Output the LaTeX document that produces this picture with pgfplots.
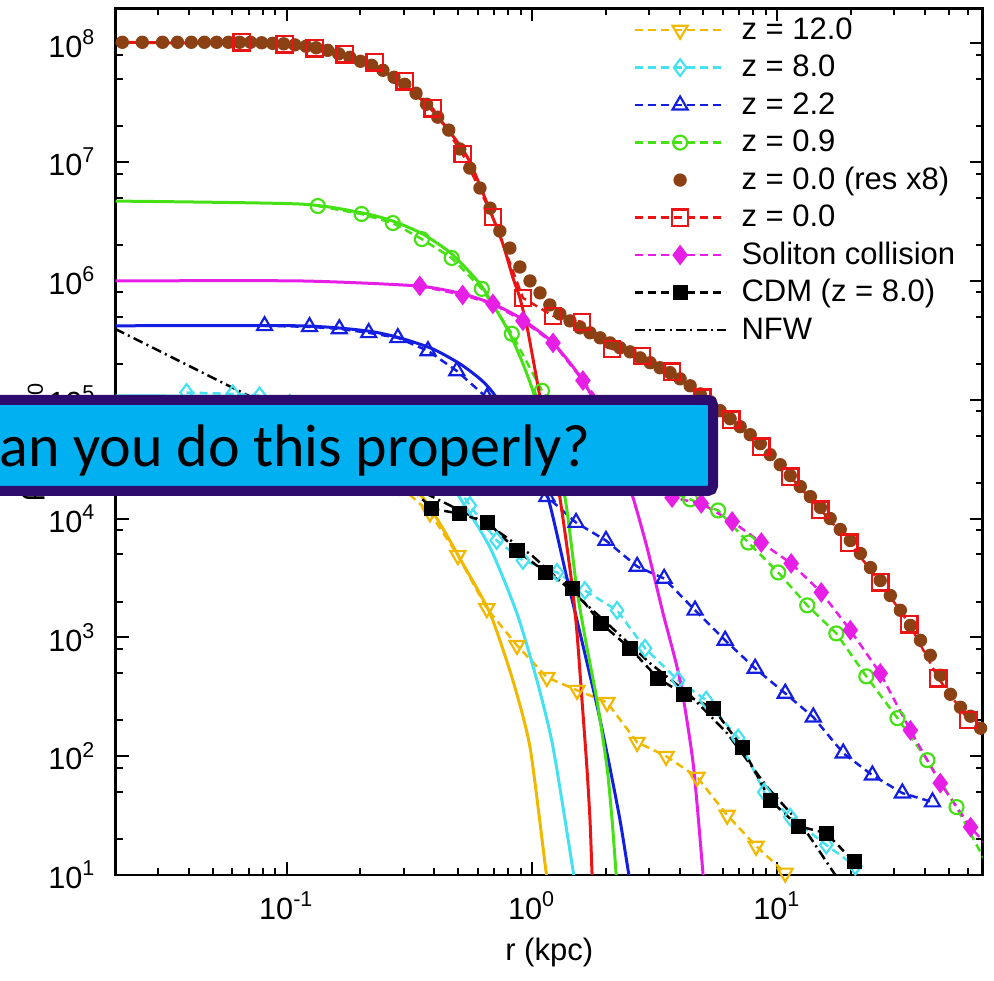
\documentclass[border=0pt]{standalone}
\usepackage{fontspec}
\setmainfont{Liberation Sans}
\newfontfamily\carlito{Carlito}
\usepackage{pgfplots}
\pgfplotsset{compat=1.18}

\definecolor{cYel}{RGB}{240,185,0}
\definecolor{cCya}{RGB}{70,225,240}
\definecolor{cBlu}{RGB}{20,30,225}
\definecolor{cGrn}{RGB}{70,225,20}
\definecolor{cBrn}{RGB}{140,65,20}
\definecolor{cRed}{RGB}{235,20,20}
\definecolor{cMag}{RGB}{230,30,230}
\definecolor{boxfill}{RGB}{0,176,240}
\definecolor{boxdraw}{RGB}{46,12,110}

\pgfplotsset{
  dsh/.style={line width=0.75pt, dash pattern=on 2.4pt off 1.5pt},
  sYel/.style={dsh, cYel, mark=triangle, mark size=2.6pt, mark options={solid, rotate=180, line width=0.65pt}},
  sCya/.style={dsh, cCya, mark=diamond, mark size=2.5pt, mark options={solid, line width=0.65pt}},
  sBlu/.style={dsh, cBlu, mark=triangle, mark size=2.6pt, mark options={solid, line width=0.65pt}},
  sGrn/.style={dsh, cGrn, mark=o, mark size=2.1pt, mark options={solid, line width=0.65pt}},
  sBrn/.style={cBrn, only marks, mark=*, mark size=1.8pt},
  sRed/.style={dsh, cRed, mark=square, mark size=2.45pt, mark options={solid, line width=0.7pt}},
  sMag/.style={dsh, cMag, mark=diamond*, mark size=2.5pt, mark options={solid}},
  sBlk/.style={dsh, black, mark=square*, mark size=1.9pt, mark options={solid}},
  sNFW/.style={black, line width=0.75pt, dash pattern=on 3pt off 1.3pt on 0.6pt off 1.3pt},
  fitS/.style={line width=0.9pt, solid, smooth, tension=0.4, forget plot},
}

\begin{document}
\begin{tikzpicture}
\begin{axis}[
  at={(0,0)}, anchor=south west,
  scale only axis, width=260.1pt, height=260.0pt,
  xmode=log, ymode=log,
  xmin=0.0201, xmax=68.8, ymin=10, ymax=1.97e8,
  xtick={0.1,1,10},
  xticklabels={10\textsuperscript{-1},10\textsuperscript{0},10\textsuperscript{1}},
  ytick={10,100,1000,1e4,1e5,1e6,1e7,1e8},
  yticklabels={10\textsuperscript{1},10\textsuperscript{2},10\textsuperscript{3},10\textsuperscript{4},10\textsuperscript{5},10\textsuperscript{6},10\textsuperscript{7},10\textsuperscript{8}},
  minor xtick={0.03,0.04,0.05,0.06,0.07,0.08,0.09,0.2,0.3,0.4,0.5,0.6,0.7,0.8,0.9,2,3,4,5,6,7,8,9,20,30,40,50,60},
  minor ytick={20,50,80,200,500,800,2000,5000,8000,2e4,5e4,8e4,2e5,5e5,8e5,2e6,5e6,8e6,2e7,5e7,8e7},
  tick align=inside,
  major tick length=3.9pt, minor tick length=2.1pt,
  tick style={black, line width=0.6pt},
  axis line style={line width=0.8pt},
  tick label style={font=\fontsize{9.2}{11}\selectfont},
  xticklabel style={anchor=center, inner sep=0pt, yshift=-9.3pt},
  yticklabel style={anchor=east, inner sep=0pt, xshift=-5.7pt},
  label style={font=\fontsize{9.3}{11}\selectfont},
  xlabel={r (kpc)},
  ylabel={ρ\hspace{0.7em}/\hspace{0.7em}ρ\textsubscript{m0}},
  xlabel style={at={(axis description cs:0.5,-0.0894)}, anchor=center},
  ylabel style={at={(axis description cs:-0.0988,0.5)}, anchor=center},
  legend cell align=left,
  legend style={draw=none, fill=none, at={(0.5963,0.9997)}, anchor=north west,
    inner sep=0pt, row sep=-1.25pt, column sep=2.4pt,
    font=\fontsize{9.3}{11}\selectfont,
    /tikz/every even column/.append style={text height=7pt, text depth=2pt, inner sep=0pt}},
  legend image code/.code={\draw[mark repeat=2,mark phase=2,#1] plot coordinates {(0pt,0pt) (13.65pt,0pt) (27.3pt,0pt)};},
]
\addlegendimage{sYel}\addlegendentry{z = 12.0}
\addlegendimage{sCya}\addlegendentry{z = 8.0}
\addlegendimage{sBlu}\addlegendentry{z = 2.2}
\addlegendimage{sGrn}\addlegendentry{z = 0.9}
\addlegendimage{sBrn}\addlegendentry{z = 0.0 (res x8)}
\addlegendimage{sRed}\addlegendentry{z = 0.0}
\addlegendimage{sMag}\addlegendentry{Soliton collision}
\addlegendimage{sBlk}\addlegendentry{CDM (z = 8.0)}
\addlegendimage{sNFW}\addlegendentry{NFW}

% NFW
\addplot[sNFW, forget plot] coordinates {(0.02,3.95e5) (0.070,1.08e5) (0.150,4.52e4) (0.349,1.72e4) (0.655,9.08e3) (1.0,4.89e3) (1.469,2.39e3) (2.004,1.34e3) (3.034,605) (4.416,326) (6.25,156) (9.10,54.9) (12.77,25.3) (17.25,10) (18.07,8.2)};

% yellow z=12
\addplot[cYel, fitS] coordinates {(0.02,4.52e4) (0.113,4.27e4) (0.181,3.73e4) (0.263,2.63e4) (0.359,1.50e4) (0.4335,8.24e3) (0.522,4.19e3) (0.675,1.59e3) (0.836,435) (0.982,119) (1.130,12.6) (1.151,9.4)};
\addplot[sYel, forget plot] coordinates {(0.289,1.89e4) (0.384,1.12e4) (0.499,4.89e3) (0.655,1.75e3) (0.869,857) (1.151,461) (1.527,359) (2.023,284) (2.685,131) (3.524,100) (4.71,66.7) (6.25,31.9) (8.20,17.5) (10.78,10.4)};

% cyan z=8
\addplot[cCya, fitS] coordinates {(0.02,1.08e5) (0.0706,1.06e5) (0.113,9.81e4) (0.181,8.09e4) (0.289,5.70e4) (0.384,3.73e4) (0.508,1.50e4) (0.675,5.70e3) (0.869,1.59e3) (1.048,435) (1.219,119) (1.455,12.6) (1.484,9.4)};
\addplot[sCya, forget plot] coordinates {(0.0391,1.15e5) (0.0603,1.12e5) (0.0776,1.08e5) (0.103,9.3e4) (0.1365,8.6e4) (0.181,7.6e4) (0.240,6.41e4) (0.318,4.52e4) (0.421,3.07e4) (0.558,1.29e4) (0.719,6.53e3) (0.919,4.44e3) (1.265,3.52e3) (1.644,2.48e3) (2.223,1.69e3) (2.891,809) (3.944,435) (5.13,296) (6.93,142) (8.85,49.8) (11.30,30.7) (15.85,17.9) (20.8,11.9)};

% blue z=2.2
\addplot[cBlu, fitS] coordinates {(0.02,4.19e5) (0.113,4.19e5) (0.212,3.80e5) (0.289,3.32e5) (0.394,2.68e5) (0.508,2.01e5) (0.614,1.50e5) (0.693,1.15e5) (0.853,6.05e4) (1.0,2.96e4) (1.163,1.50e4) (1.39,3.13e3) (1.614,857) (1.86,244) (2.081,79.3) (2.286,29.0) (2.466,11.0) (2.56,6.8)};
\addplot[sBlu, forget plot] coordinates {(0.0813,4.19e5) (0.124,4.11e5) (0.164,3.95e5) (0.216,3.66e5) (0.284,3.32e5) (0.377,2.58e5) (0.494,1.75e5) (0.655,1.04e5) (0.869,4.10e4) (1.151,1.53e4) (1.513,9.25e3) (2.004,6.53e3) (2.685,3.95e3) (3.459,3.13e3) (4.624,1.69e3) (6.134,944) (8.128,548) (10.78,338) (14.03,213) (18.58,106) (24.43,69.2) (32.36,48.9) (42.95,41.1)};

% green z=0.9
\addplot[cGrn, fitS] coordinates {(0.02,4.70e6) (0.113,4.44e6) (0.204,3.73e6) (0.271,3.19e6) (0.359,2.48e6) (0.471,1.69e6) (0.614,9.44e5) (0.719,5.60e5) (0.813,3.59e5) (0.919,2.01e5) (1.009,1.19e5) (1.183,4.10e4) (1.364,1.50e4) (1.527,2.48e3) (1.675,824) (1.841,296) (2.023,80.9) (2.122,29.0) (2.203,10.4) (2.223,8.2)};
\addplot[sGrn, forget plot] coordinates {(0.134,4.27e6) (0.202,3.66e6) (0.271,3.07e6) (0.356,2.25e6) (0.471,1.56e6) (0.625,8.57e5) (0.828,3.59e5) (1.099,1.19e5) (1.455,5.48e4) (1.931,3.38e4) (2.559,2.44e4) (3.327,1.82e4) (4.416,1.45e4) (5.74,1.17e4) (7.62,6.28e3) (10.09,3.52e3) (13.25,1.86e3) (17.41,1.08e3) (23.07,470) (30.9,209) (40.9,92.6) (53.8,37.3) (70.0,13.4)};

% magenta soliton collision
\addplot[cMag, fitS] coordinates {(0.02,1.0e6) (0.113,1.0e6) (0.340,9.08e5) (0.522,7.78e5) (0.693,6.41e5) (0.893,4.89e5) (1.219,3.01e5) (1.614,1.45e5) (1.986,6.41e4) (2.286,3.07e4) (2.583,1.50e4) (2.946,5.70e3) (3.425,1.59e3) (4.018,435) (4.54,87.3) (4.94,12.6) (4.99,9.5)};
\addplot[sMag, forget plot] coordinates {(0.349,9.08e5) (0.522,7.62e5) (0.693,6.41e5) (0.919,4.61e5) (1.219,3.01e5) (1.614,1.45e5) (2.122,6.92e4) (2.812,3.19e4) (3.726,1.50e4) (4.90,1.34e4) (6.55,9.44e3) (8.61,6.28e3) (11.40,4.19e3) (15.12,2.39e3) (19.86,1.15e3) (26.3,498) (34.9,165) (46.2,59.3) (61.4,25.3) (70.0,18.6)};

% CDM
\addplot[sBlk, forget plot] coordinates {(0.301,2.08e4) (0.391,1.21e4) (0.508,1.10e4) (0.661,9.25e3) (0.869,5.38e3) (1.140,3.52e3) (1.469,2.58e3) (1.914,1.31e3) (2.512,809) (3.266,452) (4.17,332) (5.48,253) (7.19,119) (9.354,42.7) (12.18,25.8) (15.85,22.5) (20.6,12.9)};

% brown res x8
\addplot[sBrn, forget plot] coordinates {(0.0214,1.02e8) (0.0258,1.02e8) (0.0312,1.02e8) (0.0359,1.02e8) (0.0409,1.02e8) (0.0462,1.02e8) (0.0518,1.02e8) (0.0579,1.02e8) (0.0643,1.02e8) (0.0713,1.02e8) (0.0791,1.01e8) (0.0877,1.0e8) (0.0973,9.9e7) (0.108,9.7e7) (0.120,9.44e7) (0.132,9.17e7) (0.147,8.73e7) (0.163,8.16e7) (0.181,7.62e7) (0.200,7.06e7) (0.222,6.53e7) (0.247,5.93e7) (0.274,5.18e7) (0.303,4.52e7) (0.337,3.80e7) (0.372,3.07e7) (0.413,2.39e7) (0.458,1.86e7) (0.508,1.29e7) (0.558,8.91e6) (0.614,6.05e6) (0.675,4.10e6) (0.740,2.63e6) (0.813,1.89e6) (0.893,1.31e6) (0.982,1.0e6) (1.079,7.93e5) (1.183,6.28e5) (1.30,5.28e5) (1.429,4.61e5) (1.570,4.03e5) (1.725,3.66e5) (1.896,3.32e5) (2.081,3.01e5) (2.286,2.74e5) (2.512,2.53e5) (2.761,2.25e5) (3.034,2.05e5) (3.327,1.86e5) (3.656,1.69e5) (4.018,1.50e5) (4.416,1.31e5) (4.853,1.12e5) (5.333,9.62e4) (5.848,8.09e4) (6.427,6.92e4) (7.063,5.93e4) (7.762,5.08e4) (8.531,4.27e4) (9.354,3.45e4) (10.28,2.84e4) (11.30,2.30e4) (12.42,1.86e4) (13.65,1.53e4) (15.00,1.24e4) (16.44,1.0e4) (18.07,8.09e3) (19.86,6.53e3) (21.83,5.08e3) (23.99,3.87e3) (26.30,3.01e3) (28.91,2.25e3) (31.77,1.69e3) (34.91,1.26e3) (38.37,944) (42.07,706) (46.24,480) (50.82,332) (55.85,258) (61.38,217) (67.45,172)};

% red z=0
\addplot[cRed, fitS] coordinates {(0.02,1.02e8) (0.1,9.81e7) (0.124,9.08e7) (0.164,8.09e7) (0.212,6.8e7) (0.289,4.80e7) (0.394,2.7e7) (0.543,1.12e7) (0.693,3.4e6) (0.762,2.04e6) (0.836,1.07e6) (0.893,7.2e5) (0.955,4.1e5) (1.009,2.24e5) (1.079,1.05e5) (1.183,3.95e4) (1.30,1.50e4) (1.455,2.84e3) (1.527,1.08e3) (1.600,296) (1.675,80.9) (1.725,29.0) (1.758,10.4) (1.774,8.2)};
\addplot[sRed, forget plot] coordinates {(0.0655,1.02e8) (0.0982,9.81e7) (0.130,9.08e7) (0.1726,8.09e7) (0.2286,6.92e7) (0.303,4.80e7) (0.394,2.84e7) (0.522,1.17e7) (0.693,3.45e6) (0.919,7.19e5) (1.219,5.08e5) (1.600,4.52e5) (2.122,2.68e5) (2.812,2.34e5) (3.726,1.72e5) (4.943,1.04e5) (6.49,6.79e4) (8.61,4.03e4) (11.30,2.25e4) (15.0,1.19e4) (19.68,6.28e3) (26.3,2.90e3) (34.6,1.29e3) (45.4,452) (60.2,201)};
\end{axis}
\filldraw[fill=boxfill, draw=boxdraw, line width=3pt, rounded corners=1.5pt] (-51.2pt,115.2pt) rectangle (179.2pt,142.5pt);
\node[anchor=base west, inner sep=0pt, font=\carlito\fontsize{18}{18}\selectfont] at (-44.6pt,122.4pt) {Can you do this properly?};
\pgfresetboundingbox
\useasboundingbox (-34.71pt,-31.8pt) rectangle (263.49pt,262.5pt);
\end{tikzpicture}
\end{document}
